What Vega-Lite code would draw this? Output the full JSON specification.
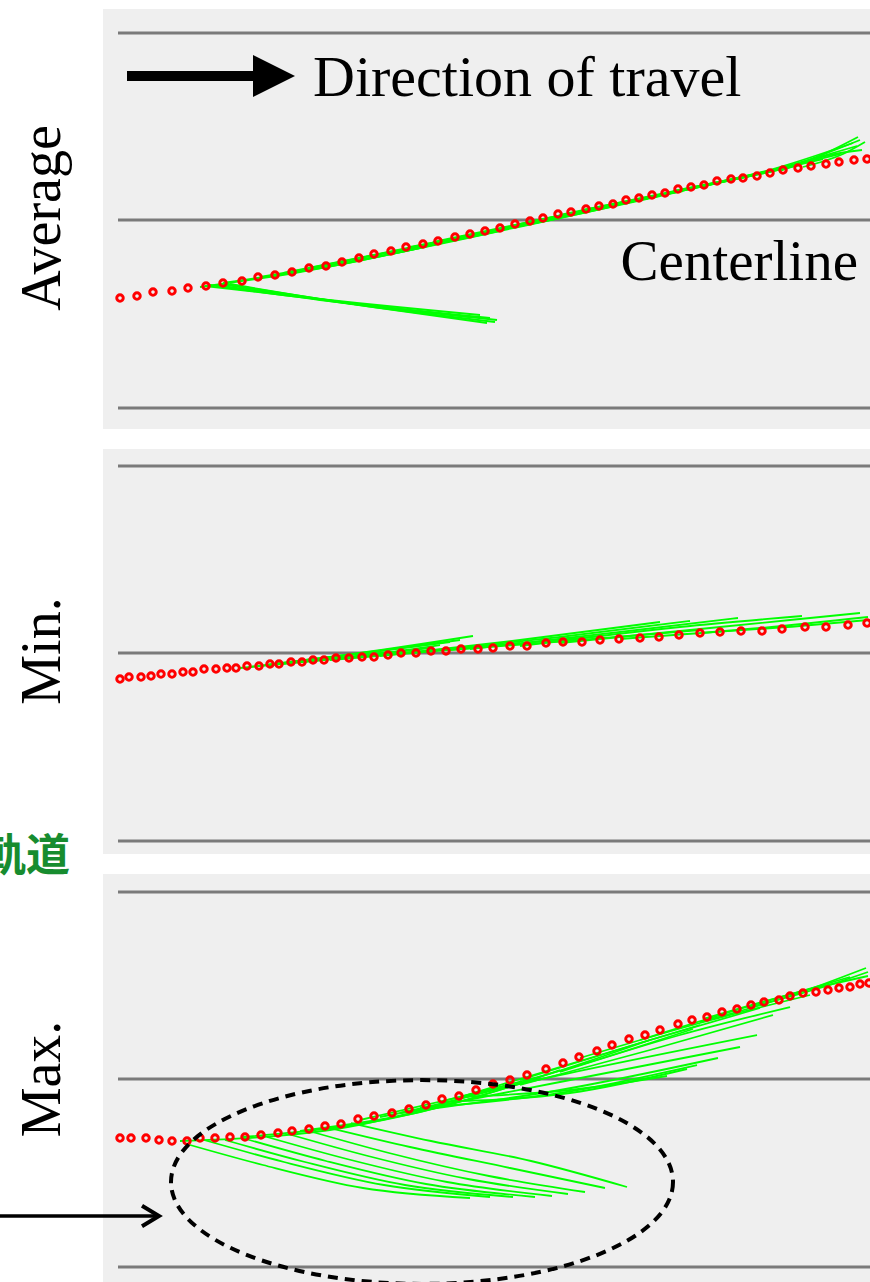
{
"$schema": "https://vega.github.io/schema/vega-lite/v6.json",
"padding": {"left": -39, "top": 9, "right": 0, "bottom": 0},
"autosize": {"type": "pad"},
"background": "white",
"bounds": "flush",
"spacing": 20,
"config": {"view": {"fill": "#efefef", "stroke": null}},
"data": {"values": [
{"k":"lane","y":187},{"k":"lane","y":0},{"k":"lane","y":-188},
{"p":"avg","k":"t","x":17,"y":-78},{"p":"avg","k":"t","x":34,"y":-76},{"p":"avg","k":"t","x":50,"y":-72},{"p":"avg","k":"t","x":69,"y":-71},{"p":"avg","k":"t","x":85,"y":-68},{"p":"avg","k":"t","x":103,"y":-66},{"p":"avg","k":"t","x":120,"y":-63},{"p":"avg","k":"t","x":139,"y":-61},{"p":"avg","k":"t","x":155,"y":-57},{"p":"avg","k":"t","x":172,"y":-55},{"p":"avg","k":"t","x":189,"y":-52},{"p":"avg","k":"t","x":206,"y":-48},{"p":"avg","k":"t","x":223,"y":-46},{"p":"avg","k":"t","x":239,"y":-42},{"p":"avg","k":"t","x":256,"y":-38},{"p":"avg","k":"t","x":271,"y":-34},{"p":"avg","k":"t","x":288,"y":-31},{"p":"avg","k":"t","x":303,"y":-27},{"p":"avg","k":"t","x":320,"y":-24},{"p":"avg","k":"t","x":335,"y":-21},{"p":"avg","k":"t","x":352,"y":-17},{"p":"avg","k":"t","x":367,"y":-14},{"p":"avg","k":"t","x":382,"y":-11},{"p":"avg","k":"t","x":397,"y":-8},{"p":"avg","k":"t","x":412,"y":-4},{"p":"avg","k":"t","x":427,"y":-1},{"p":"avg","k":"t","x":440,"y":2},{"p":"avg","k":"t","x":455,"y":6},{"p":"avg","k":"t","x":468,"y":8},{"p":"avg","k":"t","x":483,"y":11},{"p":"avg","k":"t","x":496,"y":14},{"p":"avg","k":"t","x":510,"y":16},{"p":"avg","k":"t","x":523,"y":20},{"p":"avg","k":"t","x":536,"y":22},{"p":"avg","k":"t","x":549,"y":25},{"p":"avg","k":"t","x":562,"y":27},{"p":"avg","k":"t","x":575,"y":31},{"p":"avg","k":"t","x":588,"y":33},{"p":"avg","k":"t","x":601,"y":35},{"p":"avg","k":"t","x":614,"y":39},{"p":"avg","k":"t","x":628,"y":41},{"p":"avg","k":"t","x":640,"y":42},{"p":"avg","k":"t","x":654,"y":44},{"p":"avg","k":"t","x":667,"y":47},{"p":"avg","k":"t","x":680,"y":50},{"p":"avg","k":"t","x":695,"y":52},{"p":"avg","k":"t","x":708,"y":54},{"p":"avg","k":"t","x":723,"y":56},{"p":"avg","k":"t","x":736,"y":58},{"p":"avg","k":"t","x":751,"y":60},{"p":"avg","k":"t","x":764,"y":61},
{"p":"min","k":"t","x":17,"y":-26},{"p":"min","k":"t","x":26,"y":-24},{"p":"min","k":"t","x":38,"y":-24},{"p":"min","k":"t","x":48,"y":-23},{"p":"min","k":"t","x":58,"y":-21},{"p":"min","k":"t","x":69,"y":-21},{"p":"min","k":"t","x":80,"y":-19},{"p":"min","k":"t","x":90,"y":-19},{"p":"min","k":"t","x":101,"y":-16},{"p":"min","k":"t","x":113,"y":-16},{"p":"min","k":"t","x":124,"y":-15},{"p":"min","k":"t","x":133,"y":-15},{"p":"min","k":"t","x":144,"y":-13},{"p":"min","k":"t","x":156,"y":-13},{"p":"min","k":"t","x":167,"y":-11},{"p":"min","k":"t","x":176,"y":-11},{"p":"min","k":"t","x":188,"y":-9},{"p":"min","k":"t","x":199,"y":-9},{"p":"min","k":"t","x":210,"y":-7},{"p":"min","k":"t","x":221,"y":-7},{"p":"min","k":"t","x":233,"y":-5},{"p":"min","k":"t","x":246,"y":-5},{"p":"min","k":"t","x":259,"y":-4},{"p":"min","k":"t","x":271,"y":-4},{"p":"min","k":"t","x":285,"y":-2},{"p":"min","k":"t","x":298,"y":0},{"p":"min","k":"t","x":313,"y":0},{"p":"min","k":"t","x":328,"y":2},{"p":"min","k":"t","x":343,"y":2},{"p":"min","k":"t","x":358,"y":4},{"p":"min","k":"t","x":375,"y":4},{"p":"min","k":"t","x":390,"y":5},{"p":"min","k":"t","x":407,"y":7},{"p":"min","k":"t","x":424,"y":7},{"p":"min","k":"t","x":443,"y":10},{"p":"min","k":"t","x":460,"y":11},{"p":"min","k":"t","x":479,"y":11},{"p":"min","k":"t","x":497,"y":13},{"p":"min","k":"t","x":516,"y":14},{"p":"min","k":"t","x":537,"y":15},{"p":"min","k":"t","x":556,"y":16},{"p":"min","k":"t","x":576,"y":18},{"p":"min","k":"t","x":597,"y":20},{"p":"min","k":"t","x":617,"y":21},{"p":"min","k":"t","x":638,"y":22},{"p":"min","k":"t","x":659,"y":22},{"p":"min","k":"t","x":679,"y":24},{"p":"min","k":"t","x":702,"y":26},{"p":"min","k":"t","x":723,"y":26},{"p":"min","k":"t","x":745,"y":28},{"p":"min","k":"t","x":764,"y":30},
{"p":"max","k":"t","x":17,"y":-59},{"p":"max","k":"t","x":28,"y":-59},{"p":"max","k":"t","x":43,"y":-59},{"p":"max","k":"t","x":56,"y":-61},{"p":"max","k":"t","x":69,"y":-62},{"p":"max","k":"t","x":84,"y":-62},{"p":"max","k":"t","x":97,"y":-59},{"p":"max","k":"t","x":112,"y":-59},{"p":"max","k":"t","x":127,"y":-58},{"p":"max","k":"t","x":142,"y":-58},{"p":"max","k":"t","x":158,"y":-56},{"p":"max","k":"t","x":175,"y":-54},{"p":"max","k":"t","x":189,"y":-52},{"p":"max","k":"t","x":206,"y":-50},{"p":"max","k":"t","x":222,"y":-47},{"p":"max","k":"t","x":238,"y":-45},{"p":"max","k":"t","x":255,"y":-40},{"p":"max","k":"t","x":271,"y":-37},{"p":"max","k":"t","x":289,"y":-34},{"p":"max","k":"t","x":306,"y":-30},{"p":"max","k":"t","x":323,"y":-26},{"p":"max","k":"t","x":339,"y":-20},{"p":"max","k":"t","x":356,"y":-17},{"p":"max","k":"t","x":373,"y":-11},{"p":"max","k":"t","x":390,"y":-5},{"p":"max","k":"t","x":407,"y":-1},{"p":"max","k":"t","x":424,"y":4},{"p":"max","k":"t","x":443,"y":10},{"p":"max","k":"t","x":460,"y":16},{"p":"max","k":"t","x":476,"y":22},{"p":"max","k":"t","x":494,"y":28},{"p":"max","k":"t","x":509,"y":34},{"p":"max","k":"t","x":526,"y":40},{"p":"max","k":"t","x":542,"y":44},{"p":"max","k":"t","x":557,"y":49},{"p":"max","k":"t","x":575,"y":55},{"p":"max","k":"t","x":589,"y":59},{"p":"max","k":"t","x":604,"y":62},{"p":"max","k":"t","x":619,"y":67},{"p":"max","k":"t","x":634,"y":70},{"p":"max","k":"t","x":648,"y":74},{"p":"max","k":"t","x":661,"y":77},{"p":"max","k":"t","x":676,"y":79},{"p":"max","k":"t","x":687,"y":83},{"p":"max","k":"t","x":700,"y":86},{"p":"max","k":"t","x":713,"y":87},{"p":"max","k":"t","x":725,"y":89},{"p":"max","k":"t","x":736,"y":91},{"p":"max","k":"t","x":747,"y":92},{"p":"max","k":"t","x":757,"y":95},{"p":"max","k":"t","x":766,"y":96},
{"p":"avg","k":"pred","id":"a1","o":0,"x":97,"y":-67},{"p":"avg","k":"pred","id":"a1","o":1,"x":197,"y":-52},{"p":"avg","k":"pred","id":"a1","o":2,"x":317,"y":-28},
{"p":"avg","k":"pred","id":"a2","o":0,"x":157,"y":-57},{"p":"avg","k":"pred","id":"a2","o":1,"x":277,"y":-36},{"p":"avg","k":"pred","id":"a2","o":2,"x":397,"y":-11},
{"p":"avg","k":"pred","id":"a3","o":0,"x":207,"y":-48},{"p":"avg","k":"pred","id":"a3","o":1,"x":327,"y":-24},{"p":"avg","k":"pred","id":"a3","o":2,"x":457,"y":2},
{"p":"avg","k":"pred","id":"a4","o":0,"x":257,"y":-38},{"p":"avg","k":"pred","id":"a4","o":1,"x":377,"y":-15},{"p":"avg","k":"pred","id":"a4","o":2,"x":507,"y":13},
{"p":"avg","k":"pred","id":"a5","o":0,"x":307,"y":-27},{"p":"avg","k":"pred","id":"a5","o":1,"x":427,"y":-4},{"p":"avg","k":"pred","id":"a5","o":2,"x":557,"y":24},
{"p":"avg","k":"pred","id":"a6","o":0,"x":357,"y":-17},{"p":"avg","k":"pred","id":"a6","o":1,"x":477,"y":7},{"p":"avg","k":"pred","id":"a6","o":2,"x":597,"y":34},
{"p":"avg","k":"pred","id":"a7","o":0,"x":407,"y":-6},{"p":"avg","k":"pred","id":"a7","o":1,"x":527,"y":18},{"p":"avg","k":"pred","id":"a7","o":2,"x":647,"y":44},
{"p":"avg","k":"pred","id":"a8","o":0,"x":457,"y":5},{"p":"avg","k":"pred","id":"a8","o":1,"x":577,"y":30},{"p":"avg","k":"pred","id":"a8","o":2,"x":697,"y":55},
{"p":"avg","k":"pred","id":"a9","o":0,"x":507,"y":15},{"p":"avg","k":"pred","id":"a9","o":1,"x":617,"y":38},{"p":"avg","k":"pred","id":"a9","o":2,"x":737,"y":66},
{"p":"avg","k":"pred","id":"a10","o":0,"x":547,"y":23},{"p":"avg","k":"pred","id":"a10","o":1,"x":657,"y":47},{"p":"avg","k":"pred","id":"a10","o":2,"x":754,"y":74},
{"p":"avg","k":"pred","id":"a11","o":0,"x":597,"y":34},{"p":"avg","k":"pred","id":"a11","o":1,"x":687,"y":54},{"p":"avg","k":"pred","id":"a11","o":2,"x":757,"y":80},
{"p":"avg","k":"pred","id":"a12","o":0,"x":637,"y":42},{"p":"avg","k":"pred","id":"a12","o":1,"x":707,"y":60},{"p":"avg","k":"pred","id":"a12","o":2,"x":755,"y":83},
{"p":"avg","k":"pred","id":"a13","o":0,"x":677,"y":49},{"p":"avg","k":"pred","id":"a13","o":1,"x":727,"y":65},{"p":"avg","k":"pred","id":"a13","o":2,"x":759,"y":70},
{"p":"avg","k":"pred","id":"a14","o":0,"x":120,"y":-63},{"p":"avg","k":"pred","id":"a14","o":1,"x":240,"y":-44},{"p":"avg","k":"pred","id":"a14","o":2,"x":360,"y":-18},
{"p":"avg","k":"pred","id":"a15","o":0,"x":430,"y":-1},{"p":"avg","k":"pred","id":"a15","o":1,"x":550,"y":23},{"p":"avg","k":"pred","id":"a15","o":2,"x":680,"y":51},
{"p":"avg","k":"pred","id":"a16","o":0,"x":180,"y":-53},{"p":"avg","k":"pred","id":"a16","o":1,"x":300,"y":-29},{"p":"avg","k":"pred","id":"a16","o":2,"x":420,"y":-4},
{"p":"avg","k":"pred","id":"a17","o":0,"x":330,"y":-22},{"p":"avg","k":"pred","id":"a17","o":1,"x":450,"y":3},{"p":"avg","k":"pred","id":"a17","o":2,"x":580,"y":29},
{"p":"avg","k":"pred","id":"a18","o":0,"x":480,"y":10},{"p":"avg","k":"pred","id":"a18","o":1,"x":600,"y":34},{"p":"avg","k":"pred","id":"a18","o":2,"x":720,"y":61},
{"p":"avg","k":"pred","id":"a19","o":0,"x":570,"y":29},{"p":"avg","k":"pred","id":"a19","o":1,"x":670,"y":51},{"p":"avg","k":"pred","id":"a19","o":2,"x":750,"y":77},
{"p":"avg","k":"pred","id":"a20","o":0,"x":700,"y":53},{"p":"avg","k":"pred","id":"a20","o":1,"x":740,"y":66},{"p":"avg","k":"pred","id":"a20","o":2,"x":762,"y":78},
{"p":"avg","k":"pred","id":"b1","o":0,"x":102,"y":-66},{"p":"avg","k":"pred","id":"b1","o":1,"x":197,"y":-77},{"p":"avg","k":"pred","id":"b1","o":2,"x":377,"y":-95},
{"p":"avg","k":"pred","id":"b2","o":0,"x":107,"y":-65},{"p":"avg","k":"pred","id":"b2","o":1,"x":217,"y":-80},{"p":"avg","k":"pred","id":"b2","o":2,"x":387,"y":-98},
{"p":"avg","k":"pred","id":"b3","o":0,"x":112,"y":-65},{"p":"avg","k":"pred","id":"b3","o":1,"x":237,"y":-82},{"p":"avg","k":"pred","id":"b3","o":2,"x":394,"y":-100},
{"p":"avg","k":"pred","id":"b4","o":0,"x":117,"y":-64},{"p":"avg","k":"pred","id":"b4","o":1,"x":227,"y":-81},{"p":"avg","k":"pred","id":"b4","o":2,"x":384,"y":-103},
{"p":"avg","k":"pred","id":"b5","o":0,"x":122,"y":-64},{"p":"avg","k":"pred","id":"b5","o":1,"x":247,"y":-83},{"p":"avg","k":"pred","id":"b5","o":2,"x":367,"y":-97},
{"p":"avg","k":"pred","id":"b6","o":0,"x":127,"y":-64},{"p":"avg","k":"pred","id":"b6","o":1,"x":257,"y":-85},{"p":"avg","k":"pred","id":"b6","o":2,"x":392,"y":-102},
{"p":"min","k":"pred","id":"w1","o":0,"x":147,"y":-14},{"p":"min","k":"pred","id":"w1","o":1,"x":257,"y":0},{"p":"min","k":"pred","id":"w1","o":2,"x":370,"y":17},
{"p":"min","k":"pred","id":"w2","o":0,"x":162,"y":-12},{"p":"min","k":"pred","id":"w2","o":1,"x":267,"y":1},{"p":"min","k":"pred","id":"w2","o":2,"x":357,"y":13},
{"p":"min","k":"pred","id":"w3","o":0,"x":177,"y":-11},{"p":"min","k":"pred","id":"w3","o":1,"x":277,"y":2},{"p":"min","k":"pred","id":"w3","o":2,"x":347,"y":11},
{"p":"min","k":"pred","id":"w4","o":0,"x":197,"y":-9},{"p":"min","k":"pred","id":"w4","o":1,"x":287,"y":1},{"p":"min","k":"pred","id":"w4","o":2,"x":337,"y":8},
{"p":"min","k":"pred","id":"w5","o":0,"x":137,"y":-15},{"p":"min","k":"pred","id":"w5","o":1,"x":247,"y":-4},{"p":"min","k":"pred","id":"w5","o":2,"x":327,"y":5},
{"p":"min","k":"pred","id":"m1","o":0,"x":167,"y":-12},{"p":"min","k":"pred","id":"m1","o":1,"x":297,"y":0},{"p":"min","k":"pred","id":"m1","o":2,"x":417,"y":10},
{"p":"min","k":"pred","id":"m2","o":0,"x":277,"y":-3},{"p":"min","k":"pred","id":"m2","o":1,"x":417,"y":13},{"p":"min","k":"pred","id":"m2","o":2,"x":557,"y":31},
{"p":"min","k":"pred","id":"m3","o":0,"x":317,"y":1},{"p":"min","k":"pred","id":"m3","o":1,"x":457,"y":16},{"p":"min","k":"pred","id":"m3","o":2,"x":587,"y":32},
{"p":"min","k":"pred","id":"m4","o":0,"x":367,"y":4},{"p":"min","k":"pred","id":"m4","o":1,"x":517,"y":21},{"p":"min","k":"pred","id":"m4","o":2,"x":635,"y":35},
{"p":"min","k":"pred","id":"m5","o":0,"x":417,"y":7},{"p":"min","k":"pred","id":"m5","o":1,"x":577,"y":26},{"p":"min","k":"pred","id":"m5","o":2,"x":699,"y":37},
{"p":"min","k":"pred","id":"m6","o":0,"x":457,"y":10},{"p":"min","k":"pred","id":"m6","o":1,"x":617,"y":26},{"p":"min","k":"pred","id":"m6","o":2,"x":757,"y":40},
{"p":"min","k":"pred","id":"m7","o":0,"x":517,"y":14},{"p":"min","k":"pred","id":"m7","o":1,"x":657,"y":25},{"p":"min","k":"pred","id":"m7","o":2,"x":765,"y":36},
{"p":"min","k":"pred","id":"m8","o":0,"x":597,"y":20},{"p":"min","k":"pred","id":"m8","o":1,"x":697,"y":27},{"p":"min","k":"pred","id":"m8","o":2,"x":765,"y":33},
{"p":"min","k":"pred","id":"m9","o":0,"x":227,"y":-7},{"p":"min","k":"pred","id":"m9","o":1,"x":367,"y":5},{"p":"min","k":"pred","id":"m9","o":2,"x":497,"y":17},
{"p":"min","k":"pred","id":"m10","o":0,"x":347,"y":3},{"p":"min","k":"pred","id":"m10","o":1,"x":477,"y":13},{"p":"min","k":"pred","id":"m10","o":2,"x":597,"y":23},
{"p":"max","k":"pred","id":"t1","o":0,"x":77,"y":-62},{"p":"max","k":"pred","id":"t1","o":1,"x":227,"y":-51},{"p":"max","k":"pred","id":"t1","o":2,"x":377,"y":-14},
{"p":"max","k":"pred","id":"t2","o":0,"x":197,"y":-52},{"p":"max","k":"pred","id":"t2","o":1,"x":317,"y":-33},{"p":"max","k":"pred","id":"t2","o":2,"x":457,"y":9},
{"p":"max","k":"pred","id":"t3","o":0,"x":297,"y":-34},{"p":"max","k":"pred","id":"t3","o":1,"x":417,"y":-4},{"p":"max","k":"pred","id":"t3","o":2,"x":547,"y":39},
{"p":"max","k":"pred","id":"t4","o":0,"x":357,"y":-18},{"p":"max","k":"pred","id":"t4","o":1,"x":477,"y":18},{"p":"max","k":"pred","id":"t4","o":2,"x":597,"y":54},
{"p":"max","k":"pred","id":"t5","o":0,"x":417,"y":-1},{"p":"max","k":"pred","id":"t5","o":1,"x":537,"y":36},{"p":"max","k":"pred","id":"t5","o":2,"x":657,"y":71},
{"p":"max","k":"pred","id":"t6","o":0,"x":477,"y":21},{"p":"max","k":"pred","id":"t6","o":1,"x":597,"y":56},{"p":"max","k":"pred","id":"t6","o":2,"x":707,"y":84},
{"p":"max","k":"pred","id":"t7","o":0,"x":537,"y":39},{"p":"max","k":"pred","id":"t7","o":1,"x":647,"y":73},{"p":"max","k":"pred","id":"t7","o":2,"x":747,"y":102},
{"p":"max","k":"pred","id":"t8","o":0,"x":597,"y":57},{"p":"max","k":"pred","id":"t8","o":1,"x":687,"y":83},{"p":"max","k":"pred","id":"t8","o":2,"x":763,"y":111},
{"p":"max","k":"pred","id":"t9","o":0,"x":647,"y":72},{"p":"max","k":"pred","id":"t9","o":1,"x":717,"y":91},{"p":"max","k":"pred","id":"t9","o":2,"x":765,"y":107},
{"p":"max","k":"pred","id":"t10","o":0,"x":457,"y":7},{"p":"max","k":"pred","id":"t10","o":1,"x":577,"y":44},{"p":"max","k":"pred","id":"t10","o":2,"x":687,"y":72},
{"p":"max","k":"pred","id":"t11","o":0,"x":417,"y":-6},{"p":"max","k":"pred","id":"t11","o":1,"x":547,"y":29},{"p":"max","k":"pred","id":"t11","o":2,"x":670,"y":64},
{"p":"max","k":"pred","id":"t12","o":0,"x":140,"y":-58},{"p":"max","k":"pred","id":"t12","o":1,"x":280,"y":-41},{"p":"max","k":"pred","id":"t12","o":2,"x":420,"y":-4},
{"p":"max","k":"pred","id":"t13","o":0,"x":340,"y":-22},{"p":"max","k":"pred","id":"t13","o":1,"x":460,"y":9},{"p":"max","k":"pred","id":"t13","o":2,"x":590,"y":50},
{"p":"max","k":"pred","id":"t14","o":0,"x":600,"y":60},{"p":"max","k":"pred","id":"t14","o":1,"x":700,"y":88},{"p":"max","k":"pred","id":"t14","o":2,"x":765,"y":103},
{"p":"max","k":"pred","id":"r1","o":0,"x":257,"y":-41},{"p":"max","k":"pred","id":"r1","o":1,"x":457,"y":4},{"p":"max","k":"pred","id":"r1","o":2,"x":654,"y":44},
{"p":"max","k":"pred","id":"r2","o":0,"x":277,"y":-38},{"p":"max","k":"pred","id":"r2","o":1,"x":457,"y":-3},{"p":"max","k":"pred","id":"r2","o":2,"x":637,"y":32},
{"p":"max","k":"pred","id":"r3","o":0,"x":297,"y":-34},{"p":"max","k":"pred","id":"r3","o":1,"x":457,"y":-11},{"p":"max","k":"pred","id":"r3","o":2,"x":615,"y":21},
{"p":"max","k":"pred","id":"r4","o":0,"x":317,"y":-29},{"p":"max","k":"pred","id":"r4","o":1,"x":457,"y":-14},{"p":"max","k":"pred","id":"r4","o":2,"x":594,"y":14},
{"p":"max","k":"pred","id":"r5","o":0,"x":337,"y":-23},{"p":"max","k":"pred","id":"r5","o":1,"x":467,"y":-14},{"p":"max","k":"pred","id":"r5","o":2,"x":584,"y":10},
{"p":"max","k":"pred","id":"r6","o":0,"x":357,"y":-18},{"p":"max","k":"pred","id":"r6","o":1,"x":467,"y":-11},{"p":"max","k":"pred","id":"r6","o":2,"x":564,"y":3},
{"p":"max","k":"pred","id":"f0","o":0,"x":80,"y":-64},{"p":"max","k":"pred","id":"f0","o":1,"x":160,"y":-86},{"p":"max","k":"pred","id":"f0","o":2,"x":260,"y":-109},{"p":"max","k":"pred","id":"f0","o":3,"x":367,"y":-119},
{"p":"max","k":"pred","id":"f1","o":0,"x":101,"y":-61},{"p":"max","k":"pred","id":"f1","o":1,"x":181,"y":-83},{"p":"max","k":"pred","id":"f1","o":2,"x":281,"y":-106},{"p":"max","k":"pred","id":"f1","o":3,"x":387,"y":-118},
{"p":"max","k":"pred","id":"f2","o":0,"x":122,"y":-61},{"p":"max","k":"pred","id":"f2","o":1,"x":202,"y":-83},{"p":"max","k":"pred","id":"f2","o":2,"x":302,"y":-106},{"p":"max","k":"pred","id":"f2","o":3,"x":410,"y":-118},
{"p":"max","k":"pred","id":"f3","o":0,"x":143,"y":-60},{"p":"max","k":"pred","id":"f3","o":1,"x":223,"y":-82},{"p":"max","k":"pred","id":"f3","o":2,"x":323,"y":-105},{"p":"max","k":"pred","id":"f3","o":3,"x":432,"y":-118},
{"p":"max","k":"pred","id":"f4","o":0,"x":164,"y":-58},{"p":"max","k":"pred","id":"f4","o":1,"x":244,"y":-80},{"p":"max","k":"pred","id":"f4","o":2,"x":344,"y":-103},{"p":"max","k":"pred","id":"f4","o":3,"x":449,"y":-117},
{"p":"max","k":"pred","id":"f5","o":0,"x":185,"y":-55},{"p":"max","k":"pred","id":"f5","o":1,"x":265,"y":-77},{"p":"max","k":"pred","id":"f5","o":2,"x":365,"y":-100},{"p":"max","k":"pred","id":"f5","o":3,"x":465,"y":-115},
{"p":"max","k":"pred","id":"f6","o":0,"x":206,"y":-52},{"p":"max","k":"pred","id":"f6","o":1,"x":286,"y":-74},{"p":"max","k":"pred","id":"f6","o":2,"x":386,"y":-97},{"p":"max","k":"pred","id":"f6","o":3,"x":482,"y":-113},
{"p":"max","k":"pred","id":"f7","o":0,"x":227,"y":-49},{"p":"max","k":"pred","id":"f7","o":1,"x":307,"y":-68},{"p":"max","k":"pred","id":"f7","o":2,"x":407,"y":-89},{"p":"max","k":"pred","id":"f7","o":3,"x":502,"y":-109},
{"p":"max","k":"pred","id":"f8","o":0,"x":248,"y":-44},{"p":"max","k":"pred","id":"f8","o":1,"x":328,"y":-62},{"p":"max","k":"pred","id":"f8","o":2,"x":428,"y":-82},{"p":"max","k":"pred","id":"f8","o":3,"x":524,"y":-108}
]},
"vconcat": [
{
"width": 767, "height": 420,
"layer": [
 {"transform": [{"filter": "datum.k == 'lane'"}], "mark": {"type": "rule", "color": "#7a7a7a", "strokeWidth": 3}, "encoding": {"x": {"datum": 15, "axis": null}, "x2": {"datum": 767}, "y": {"field": "y", "type": "quantitative", "scale": {"domain": [-209, 211], "nice": false, "zero": false}, "axis": null}}},
 {"transform": [{"filter": "datum.p == 'avg' && datum.k == 'pred'"}], "mark": {"type": "line", "color": "#00ff00", "strokeWidth": 1.8, "interpolate": "monotone", "clip": true}, "encoding": {"x": {"field": "x", "type": "quantitative", "scale": {"domain": [0, 767], "nice": false, "zero": false}, "axis": null}, "y": {"field": "y", "type": "quantitative", "scale": {"domain": [-209, 211], "nice": false, "zero": false}, "axis": null}, "detail": {"field": "id"}, "order": {"field": "o"}}},
 {"transform": [{"filter": "datum.p == 'avg' && datum.k == 't'"}], "mark": {"type": "point", "shape": "circle", "filled": false, "color": "#ff0000", "size": 42, "strokeWidth": 3, "opacity": 1, "clip": true}, "encoding": {"x": {"field": "x", "type": "quantitative", "scale": {"domain": [0, 767], "nice": false, "zero": false}, "axis": null}, "y": {"field": "y", "type": "quantitative", "scale": {"domain": [-209, 211], "nice": false, "zero": false}, "axis": null}}},
 {"data": {"values": [{}]}, "mark": {"type": "rule", "color": "black", "strokeWidth": 10}, "encoding": {"x": {"datum": 24, "axis": null}, "x2": {"datum": 152}, "y": {"datum": 144, "axis": null}}},
 {"data": {"values": [{}]}, "mark": {"type": "point", "shape": "M -1 -1 L 1 0 L -1 1 Z", "size": 1764, "filled": true, "color": "black", "opacity": 1, "strokeWidth": 0}, "encoding": {"x": {"datum": 171, "axis": null}, "y": {"datum": 144, "axis": null}}},
 {"data": {"values": [{}]}, "mark": {"type": "text", "text": "Direction of travel", "font": "Liberation Serif", "fontSize": 58, "align": "left", "baseline": "alphabetic", "color": "black"}, "encoding": {"x": {"datum": 210, "axis": null}, "y": {"datum": 124, "axis": null}}},
 {"data": {"values": [{}]}, "mark": {"type": "text", "text": "Centerline", "font": "Liberation Serif", "fontSize": 57, "align": "right", "baseline": "alphabetic", "color": "black"}, "encoding": {"x": {"datum": 755, "axis": null}, "y": {"datum": -60, "axis": null}}},
 {"data": {"values": [{}]}, "mark": {"type": "text", "text": "Average", "angle": 270, "font": "Liberation Serif", "fontSize": 56, "align": "center", "baseline": "alphabetic", "color": "black"}, "encoding": {"x": {"datum": -43, "axis": null}, "y": {"datum": 2, "axis": null}}}
]
},
{
"width": 767, "height": 405,
"layer": [
 {"transform": [{"filter": "datum.k == 'lane'"}], "mark": {"type": "rule", "color": "#7a7a7a", "strokeWidth": 3}, "encoding": {"x": {"datum": 15, "axis": null}, "x2": {"datum": 767}, "y": {"field": "y", "type": "quantitative", "scale": {"domain": [-201, 204], "nice": false, "zero": false}, "axis": null}}},
 {"transform": [{"filter": "datum.p == 'min' && datum.k == 'pred'"}], "mark": {"type": "line", "color": "#00ff00", "strokeWidth": 1.8, "interpolate": "monotone", "clip": true}, "encoding": {"x": {"field": "x", "type": "quantitative", "scale": {"domain": [0, 767], "nice": false, "zero": false}, "axis": null}, "y": {"field": "y", "type": "quantitative", "scale": {"domain": [-201, 204], "nice": false, "zero": false}, "axis": null}, "detail": {"field": "id"}, "order": {"field": "o"}}},
 {"transform": [{"filter": "datum.p == 'min' && datum.k == 't'"}], "mark": {"type": "point", "shape": "circle", "filled": false, "color": "#ff0000", "size": 42, "strokeWidth": 3, "opacity": 1, "clip": true}, "encoding": {"x": {"field": "x", "type": "quantitative", "scale": {"domain": [0, 767], "nice": false, "zero": false}, "axis": null}, "y": {"field": "y", "type": "quantitative", "scale": {"domain": [-201, 204], "nice": false, "zero": false}, "axis": null}}},
 {"data": {"values": [{}]}, "mark": {"type": "text", "text": "軌道", "font": "Noto Sans CJK JP", "fontSize": 44, "fontWeight": "bold", "align": "right", "baseline": "alphabetic", "color": "#178c2f"}, "encoding": {"x": {"datum": -33, "axis": null}, "y": {"datum": -218, "axis": null}}},
 {"data": {"values": [{}]}, "mark": {"type": "text", "text": "Min.", "angle": 270, "font": "Liberation Serif", "fontSize": 56, "align": "center", "baseline": "alphabetic", "color": "black"}, "encoding": {"x": {"datum": -43, "axis": null}, "y": {"datum": 2, "axis": null}}}
]
},
{
"width": 767, "height": 408,
"layer": [
 {"transform": [{"filter": "datum.k == 'lane'"}], "mark": {"type": "rule", "color": "#7a7a7a", "strokeWidth": 3}, "encoding": {"x": {"datum": 15, "axis": null}, "x2": {"datum": 767}, "y": {"field": "y", "type": "quantitative", "scale": {"domain": [-203, 205], "nice": false, "zero": false}, "axis": null}}},
 {"transform": [{"filter": "datum.p == 'max' && datum.k == 'pred'"}], "mark": {"type": "line", "color": "#00ff00", "strokeWidth": 1.8, "interpolate": "monotone", "clip": true}, "encoding": {"x": {"field": "x", "type": "quantitative", "scale": {"domain": [0, 767], "nice": false, "zero": false}, "axis": null}, "y": {"field": "y", "type": "quantitative", "scale": {"domain": [-203, 205], "nice": false, "zero": false}, "axis": null}, "detail": {"field": "id"}, "order": {"field": "o"}}},
 {"transform": [{"filter": "datum.p == 'max' && datum.k == 't'"}], "mark": {"type": "point", "shape": "circle", "filled": false, "color": "#ff0000", "size": 42, "strokeWidth": 3, "opacity": 1, "clip": true}, "encoding": {"x": {"field": "x", "type": "quantitative", "scale": {"domain": [0, 767], "nice": false, "zero": false}, "axis": null}, "y": {"field": "y", "type": "quantitative", "scale": {"domain": [-203, 205], "nice": false, "zero": false}, "axis": null}}},
 {"data": {"values": [{}]}, "mark": {"type": "point", "shape": "M 1 0 C 1 0.2242 0.5523 0.406 0 0.406 C -0.5523 0.406 -1 0.2242 -1 0 C -1 -0.2242 -0.5523 -0.406 0 -0.406 C 0.5523 -0.406 1 -0.2242 1 0 Z", "size": 252004, "filled": false, "color": "black", "strokeWidth": 4, "strokeDash": [10, 7], "opacity": 1, "clip": true}, "encoding": {"x": {"datum": 319, "axis": null}, "y": {"datum": -103, "axis": null}}},
 {"data": {"values": [{}]}, "mark": {"type": "rule", "color": "black", "strokeWidth": 3.5}, "encoding": {"x": {"datum": -140, "axis": null}, "x2": {"datum": 56}, "y": {"datum": -137, "axis": null}}},
 {"data": {"values": [{}]}, "mark": {"type": "point", "shape": "M -1 -0.6 L 0 0 L -1 0.6", "size": 1156, "filled": false, "color": "black", "strokeWidth": 4, "opacity": 1}, "encoding": {"x": {"datum": 56, "axis": null}, "y": {"datum": -137, "axis": null}}},
 {"data": {"values": [{}]}, "mark": {"type": "text", "text": "Max.", "angle": 270, "font": "Liberation Serif", "fontSize": 56, "align": "center", "baseline": "alphabetic", "color": "black"}, "encoding": {"x": {"datum": -43, "axis": null}, "y": {"datum": 0, "axis": null}}}
]
}
]
}
